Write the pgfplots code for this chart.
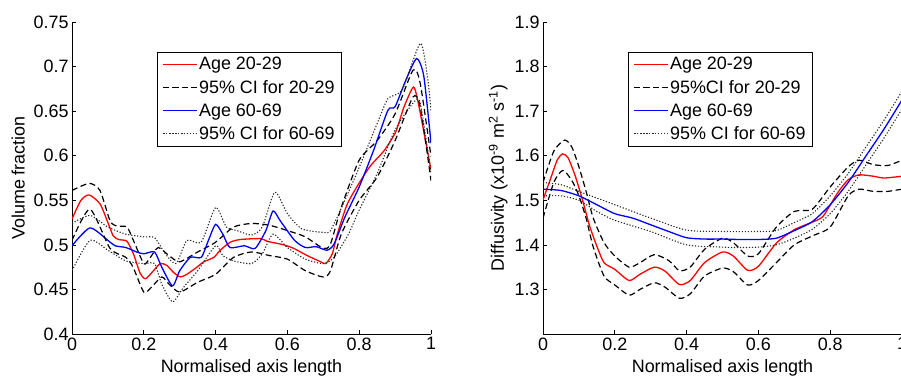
\documentclass[border=0pt]{standalone}
\usepackage{fontspec}
\setmainfont{Liberation Sans}
\usepackage{pgfplots}
\pgfplotsset{compat=1.18}
\definecolor{mred}{rgb}{1,0,0}
\definecolor{mblue}{rgb}{0,0,1}
\newcommand{\fs}{\fontsize{18}{21}\selectfont}
\pgfplotsset{
  mstyle/.style={
    scale only axis, width=359bp, height=312bp, anchor=south west,
    axis x line*=bottom, axis y line*=left,
    axis line style={line width=0.7bp},
    tick align=inside, major tick length=4bp,
    tick style={line width=0.7bp, black},
    xmin=0, xmax=1, xtick={0,0.2,0.4,0.6,0.8,1},
    /pgf/number format/assume math mode=true,
    tick label style={font=\fs},
    label style={font=\fs},
    xlabel={Normalised axis length},
    xlabel style={at={(axis description cs:0.5,-0.122)}, anchor=base},
    legend style={font=\fs, draw=black,
      legend cell align=left, inner xsep=5bp, inner ysep=4bp, row sep=7bp,
      nodes={inner xsep=1.5bp, inner ysep=1bp}},
    legend image code/.code={\draw[#1] plot coordinates {(0bp,0bp) (17bp,0bp) (34bp,0bp)};},
  },
  sred/.style={color=mred, line width=1.3bp, smooth, tension=0.4},
  sblue/.style={color=mblue, line width=1.3bp, smooth, tension=0.4},
  sdash/.style={color=black, line width=1.2bp, dash pattern=on 6bp off 3.5bp, smooth, tension=0.4},
  sdot/.style={color=black!85, line width=1.1bp, dash pattern=on 1.2bp off 1.8bp, smooth, tension=0.4},
}
\begin{document}
\begin{tikzpicture}[x=1bp,y=1bp]
\useasboundingbox (0,0) rectangle (901,383);
% ---------------- left ----------------
\begin{axis}[mstyle, at={(72bp,49bp)}, ymin=0.4, ymax=0.75,
  ytick={0.4,0.45,0.5,0.55,0.6,0.65,0.7,0.75},
  yticklabels={0.4,0.45,0.5,0.55,0.6,0.65,0.7,0.75},
  ylabel={Volume fraction},
  ylabel style={at={(axis description cs:-0.150,0.5)}, anchor=center},
  legend style={at={(axis description cs:0.237,0.904)}, anchor=north west}]
\addplot[sred] coordinates {(0,0.529) (0.025,0.55) (0.048,0.556) (0.078,0.546) (0.1,0.525) (0.115,0.510) (0.13,0.506) (0.153,0.504) (0.171,0.49) (0.19,0.468) (0.205,0.462) (0.227,0.471) (0.246,0.479) (0.264,0.477) (0.283,0.469) (0.302,0.464) (0.32,0.467) (0.348,0.475) (0.367,0.481) (0.395,0.486) (0.413,0.494) (0.441,0.503) (0.469,0.506) (0.525,0.507) (0.544,0.504) (0.59,0.5) (0.618,0.496) (0.655,0.488) (0.693,0.481) (0.707,0.479) (0.725,0.49) (0.739,0.512) (0.767,0.546) (0.804,0.572) (0.832,0.589) (0.87,0.606) (0.902,0.627) (0.925,0.655) (0.951,0.677) (0.963,0.662) (0.981,0.625) (1,0.584)};
\addlegendentry{Age 20-29}
\addplot[sdash] coordinates {(0,0.561) (0.048,0.569) (0.078,0.561) (0.106,0.527) (0.125,0.521) (0.153,0.52) (0.171,0.505) (0.2,0.479) (0.215,0.484) (0.24,0.497) (0.27,0.488) (0.3,0.481) (0.35,0.492) (0.4,0.503) (0.45,0.52) (0.5,0.524) (0.55,0.522) (0.6,0.516) (0.65,0.509) (0.7,0.496) (0.72,0.501) (0.75,0.542) (0.8,0.595) (0.85,0.617) (0.9,0.647) (0.95,0.696) (0.97,0.681) (1,0.599)};
\addlegendentry{95\% CI for 20-29}
\addplot[sblue] coordinates {(0,0.499) (0.05,0.519) (0.1,0.505) (0.12,0.499) (0.15,0.497) (0.18,0.492) (0.2,0.49) (0.23,0.492) (0.25,0.475) (0.28,0.454) (0.3,0.471) (0.33,0.486) (0.36,0.486) (0.38,0.505) (0.4,0.523) (0.42,0.512) (0.44,0.497) (0.48,0.499) (0.51,0.496) (0.54,0.516) (0.56,0.538) (0.58,0.527) (0.62,0.505) (0.65,0.497) (0.68,0.498) (0.71,0.494) (0.73,0.501) (0.76,0.531) (0.8,0.565) (0.84,0.606) (0.88,0.651) (0.9,0.655) (0.93,0.685) (0.96,0.709) (0.98,0.689) (1,0.614)};
\addlegendentry{Age 60-69}
\addplot[sdot] coordinates {(0,0.524) (0.05,0.533) (0.1,0.52) (0.15,0.512) (0.2,0.509) (0.23,0.508) (0.26,0.49) (0.29,0.479) (0.32,0.505) (0.36,0.503) (0.4,0.542) (0.43,0.52) (0.46,0.516) (0.5,0.511) (0.53,0.52) (0.565,0.559) (0.6,0.535) (0.64,0.518) (0.7,0.514) (0.72,0.516) (0.76,0.55) (0.8,0.587) (0.85,0.636) (0.88,0.664) (0.92,0.674) (0.97,0.726) (0.99,0.689) (1,0.651)};
\addlegendentry{95\% CI for 60-69}
\addplot[sdash, forget plot] coordinates {(0,0.505) (0.05,0.54) (0.106,0.496) (0.15,0.486) (0.17,0.475) (0.2,0.447) (0.22,0.452) (0.25,0.464) (0.27,0.456) (0.3,0.447) (0.35,0.458) (0.4,0.467) (0.45,0.486) (0.5,0.492) (0.55,0.488) (0.6,0.484) (0.65,0.471) (0.7,0.464) (0.72,0.471) (0.75,0.512) (0.8,0.55) (0.85,0.576) (0.9,0.617) (0.95,0.666) (0.97,0.655) (1,0.572)};
\addplot[sdot, forget plot] coordinates {(0,0.471) (0.05,0.505) (0.1,0.494) (0.15,0.482) (0.2,0.479) (0.23,0.479) (0.25,0.456) (0.28,0.436) (0.31,0.452) (0.35,0.471) (0.4,0.499) (0.42,0.488) (0.45,0.482) (0.5,0.479) (0.53,0.49) (0.56,0.512) (0.6,0.497) (0.65,0.484) (0.7,0.479) (0.73,0.486) (0.77,0.512) (0.8,0.539) (0.85,0.58) (0.9,0.629) (0.95,0.659) (0.97,0.659) (1,0.58)};
\node[font=\fs, anchor=base west, inner sep=0pt] at ([xshift=1bp,yshift=5bp]rel axis cs:0,1) {genu};
\node[font=\fs, anchor=base east, inner sep=0pt] at ([yshift=5bp]rel axis cs:1,1) {splenium};
\end{axis}
% ---------------- right ----------------
\begin{axis}[mstyle, at={(543bp,49bp)}, ymin=1.2, ymax=1.9,
  ytick={1.3,1.4,1.5,1.6,1.7,1.8,1.9},
  ylabel={Diffusivity (x10\textsuperscript{-9} m\textsuperscript{2} s\textsuperscript{-1})},
  ylabel style={at={(axis description cs:-0.125,0.5)}, anchor=center},
  legend style={at={(axis description cs:0.237,0.904)}, anchor=north west}]
\addplot[sred] coordinates {(0,1.501) (0.02,1.546) (0.04,1.591) (0.055,1.604) (0.07,1.595) (0.09,1.554) (0.11,1.501) (0.13,1.442) (0.15,1.397) (0.17,1.36) (0.2,1.345) (0.24,1.32) (0.27,1.334) (0.31,1.35) (0.34,1.341) (0.38,1.311) (0.41,1.32) (0.45,1.36) (0.5,1.384) (0.53,1.375) (0.57,1.343) (0.6,1.352) (0.65,1.404) (0.7,1.434) (0.75,1.451) (0.78,1.464) (0.82,1.516) (0.85,1.546) (0.88,1.557) (0.92,1.554) (0.95,1.55) (1,1.554)};
\addlegendentry{Age 20-29}
\addplot[sdash] coordinates {(0,1.54) (0.03,1.61) (0.06,1.635) (0.08,1.62) (0.1,1.575) (0.12,1.52) (0.14,1.46) (0.17,1.405) (0.2,1.375) (0.24,1.35) (0.27,1.36) (0.31,1.378) (0.35,1.365) (0.38,1.342) (0.41,1.35) (0.45,1.39) (0.5,1.415) (0.53,1.405) (0.57,1.375) (0.6,1.38) (0.65,1.44) (0.7,1.475) (0.75,1.48) (0.8,1.53) (0.85,1.575) (0.88,1.59) (0.92,1.58) (0.96,1.578) (1,1.59)};
\addlegendentry{95\%CI for 20-29}
\addplot[sblue] coordinates {(0,1.525) (0.05,1.522) (0.1,1.51) (0.15,1.49) (0.2,1.47) (0.25,1.46) (0.3,1.445) (0.35,1.43) (0.4,1.416) (0.45,1.413) (0.5,1.413) (0.55,1.412) (0.6,1.412) (0.65,1.415) (0.7,1.432) (0.75,1.452) (0.8,1.49) (0.85,1.54) (0.9,1.6) (0.95,1.66) (1,1.725)};
\addlegendentry{Age 60-69}
\addplot[sdot] coordinates {(0,1.54) (0.05,1.535) (0.1,1.52) (0.15,1.505) (0.2,1.49) (0.3,1.46) (0.4,1.433) (0.5,1.43) (0.6,1.43) (0.65,1.432) (0.7,1.45) (0.75,1.47) (0.8,1.51) (0.85,1.56) (0.9,1.62) (0.95,1.68) (1,1.745)};
\addlegendentry{95\% CI for 60-69}
\addplot[sdash, forget plot] coordinates {(0,1.46) (0.03,1.54) (0.055,1.567) (0.08,1.545) (0.1,1.51) (0.12,1.46) (0.14,1.395) (0.17,1.33) (0.2,1.31) (0.24,1.287) (0.27,1.3) (0.31,1.315) (0.34,1.305) (0.38,1.28) (0.41,1.29) (0.45,1.33) (0.5,1.348) (0.53,1.34) (0.57,1.31) (0.6,1.32) (0.65,1.36) (0.7,1.4) (0.75,1.42) (0.8,1.44) (0.85,1.51) (0.88,1.525) (0.92,1.52) (0.96,1.52) (1,1.525)};
\addplot[sdot, forget plot] coordinates {(0,1.51) (0.05,1.51) (0.1,1.5) (0.15,1.475) (0.2,1.455) (0.3,1.43) (0.4,1.4) (0.5,1.395) (0.55,1.394) (0.6,1.395) (0.65,1.4) (0.7,1.415) (0.75,1.435) (0.8,1.47) (0.85,1.52) (0.9,1.58) (0.95,1.64) (1,1.705)};
\node[font=\fs, anchor=base west, inner sep=0pt] at ([xshift=1bp,yshift=5bp]rel axis cs:0,1) {genu};
\node[font=\fs, anchor=base east, inner sep=0pt] at ([yshift=5bp]rel axis cs:1,1) {splenium};
\end{axis}
\end{tikzpicture}
\end{document}
